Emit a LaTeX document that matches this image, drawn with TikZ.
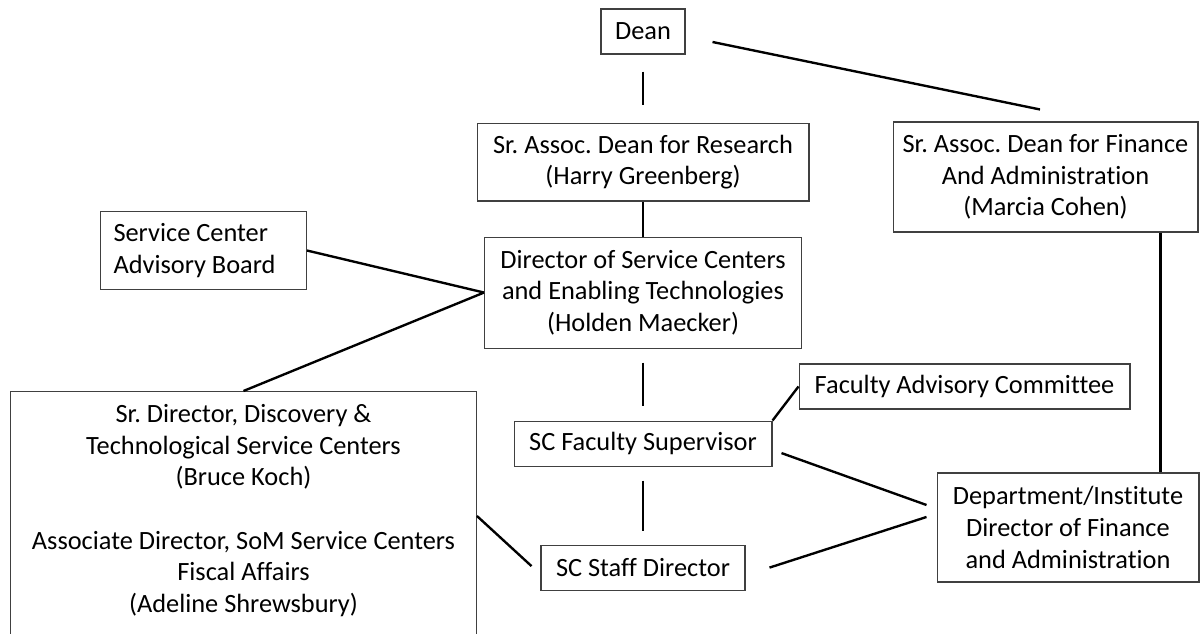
\documentclass[tikz,border=0pt]{standalone}
\usepackage{fontspec}
\setmainfont{Carlito}[Ligatures=CommonOff]
\usetikzlibrary{positioning}

\begin{document}
\begin{tikzpicture}[x=0.02cm, y=-0.02cm,
        box/.style={draw=black!75, line width=0.6pt, align=center, inner sep=0pt,
            font=\fontsize{15}{18}\selectfont\frenchspacing},
        link/.style={line width=1.35pt}]
        \useasboundingbox (0,0) rectangle (1201,634);
        \clip (0,0) rectangle (1201,634);
        % middle column
        \node[box, minimum width=1.68cm, minimum height=0.9cm] (dean) at (643,31.5) {Dean};
        \node[box, minimum width=6.64cm, minimum height=1.56cm, below = 1.36cm of dean] (research)
            {Sr. Assoc. Dean for Research\\(Harry Greenberg)};
        \node[box, minimum width=6.34cm, minimum height=2.22cm, below = 0.7cm of research] (director)
            {Director of Service Centers\\and Enabling Technologies\\(Holden Maecker)};
        \node[box, minimum width=5.16cm, minimum height=0.9cm, below = 1.44cm of director] (faculty)
            {SC Faculty Supervisor};
        \node[box, minimum width=4.08cm, minimum height=0.9cm, below = 1.56cm of faculty] (staff)
            {SC Staff Director};
        % side boxes
        \node[box, minimum width=6.1cm, minimum height=2.2cm] (fin) at (1045.5,177)
            {Sr. Assoc. Dean for Finance\\And Administration\\(Marcia Cohen)};
        \node[box, minimum width=6.62cm, minimum height=0.9cm] (fac) at (964.5,386.5)
            {Faculty Advisory Committee};
        \node[box, minimum width=5.24cm, minimum height=2.18cm] (dept) at (1068,527.5)
            {Department/Institute\\Director of Finance\\and Administration};
        \node[box, anchor=north west, align=flush left, text width=3.6cm, inner xsep=0.26cm,
            minimum height=1.56cm] (scab) at (100,211)
            {Service Center\\Advisory Board};
        \node[box, anchor=north west] (srdir) at (10,391)
            {\begin{minipage}[t][5.2cm][t]{9.32cm}\centering
                \rule{0pt}{0.62cm}Sr. Director, Discovery \&\\
                Technological Service Centers\\
                (Bruce Koch)\\[18pt]
                Associate Director, SoM Service Centers\\
                Fiscal Affairs\\
                (Adeline Shrewsbury)
            \end{minipage}};
        \coordinate (findrop) at ([shift={(-38,0)}]fin.south east);
        % connectors
        \draw[link, shorten <=0.34cm, shorten >=0.36cm] (dean) -- (research);
        \draw[link] (research) -- (director);
        \draw[link, shorten <=0.28cm, shorten >=0.3cm] (director) -- (faculty);
        \draw[link, shorten <=0.28cm, shorten >=0.28cm] (faculty) -- (staff);
        \draw[link] ([shift={(27,10.5)}]dean.east) -- ([shift={(-5.5,-12)}]fin.north);
        \draw[link] (scab.east) -- (director.west);
        \draw[link] (srdir.north) -- (director.west);
        \draw[link] (faculty.north east) -- (fac.west);
        \draw[link] ([shift={(9,9.5)}]faculty.east) -- ([shift={(-10,-22.5)}]dept.west);
        \draw[link] ([shift={(24,0)}]staff.east) -- ([shift={(-10,-10.5)}]dept.west);
        \draw[link] ([shift={(0,125)}]srdir.north east) -- ([shift={(-9,-1.5)}]staff.west);
        \draw[link] (findrop) -- (findrop |- dept.north);
\end{tikzpicture}
\end{document}
